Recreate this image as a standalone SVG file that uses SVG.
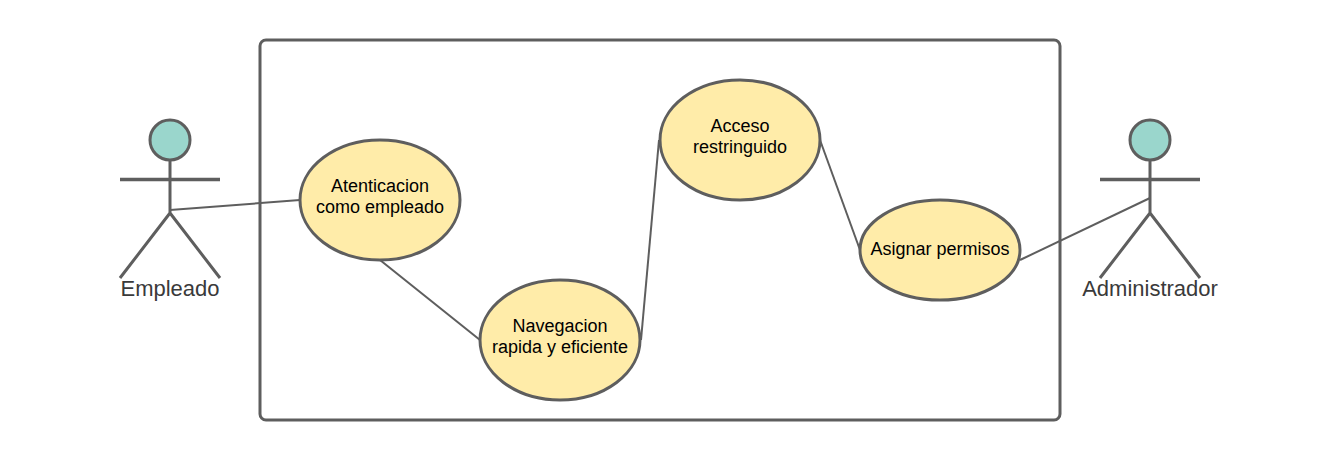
<svg xmlns="http://www.w3.org/2000/svg" width="1320" height="460" viewBox="0 0 1320 460">
<style>
text{font-family:"Liberation Sans",Arial,sans-serif;text-anchor:middle}
.u{font-size:18px;fill:#000}
.a{font-size:22px;fill:#3a3a3a}
.e{fill:#ffeca9;stroke:#5e5e5e;stroke-width:3}
.h{fill:#9ad6cc;stroke:#5e5e5e;stroke-width:3}
.s{fill:none;stroke:#5e5e5e;stroke-width:3}
.r{fill:none;stroke:#5e5e5e;stroke-width:3.5}
.c{fill:none;stroke:#5e5e5e;stroke-width:2}
</style>
<rect fill="#fff" width="1320" height="460"/>
<rect id="system" x="260" y="40" width="800" height="380" rx="6" fill="#fff" stroke="#5e5e5e" stroke-width="3"/>
<g id="connectors">
<path class="c" d="M170 210L300 200"/>
<path class="c" d="M380 260L480 340"/>
<path class="c" d="M641 340L659 140"/>
<path class="c" d="M820 140L860 250"/>
<path class="c" d="M1020 260L1150 198"/>
</g>
<g id="empleado"><circle class="h" cx="170" cy="140" r="20"/><path class="s" d="M170 160V213M170 213L120 278M170 213L220 278"/><path class="r" d="M120 179.500H220"/><text class="a" x="170" y="296">Empleado</text></g>
<g id="administrador"><circle class="h" cx="1150" cy="140" r="20"/><path class="s" d="M1150 160V213M1150 213L1100 278M1150 213L1200 278"/><path class="r" d="M1100 179.500H1200"/><text class="a" x="1150" y="296">Administrador</text></g>
<g id="uc1"><ellipse class="e" cx="380" cy="200" rx="80" ry="60"/><text class="u" x="380" y="192">Atenticacion</text><text class="u" x="380" y="213">como empleado</text></g>
<g id="uc2"><ellipse class="e" cx="560" cy="340" rx="80" ry="60"/><text class="u" x="560" y="332">Navegacion</text><text class="u" x="560" y="353">rapida y eficiente</text></g>
<g id="uc3"><ellipse class="e" cx="740" cy="140" rx="80" ry="60"/><text class="u" x="740" y="132">Acceso</text><text class="u" x="740" y="153">restringuido</text></g>
<g id="uc4"><ellipse class="e" cx="940" cy="250" rx="80" ry="50"/><text class="u" x="940" y="255">Asignar permisos</text></g>
</svg>
